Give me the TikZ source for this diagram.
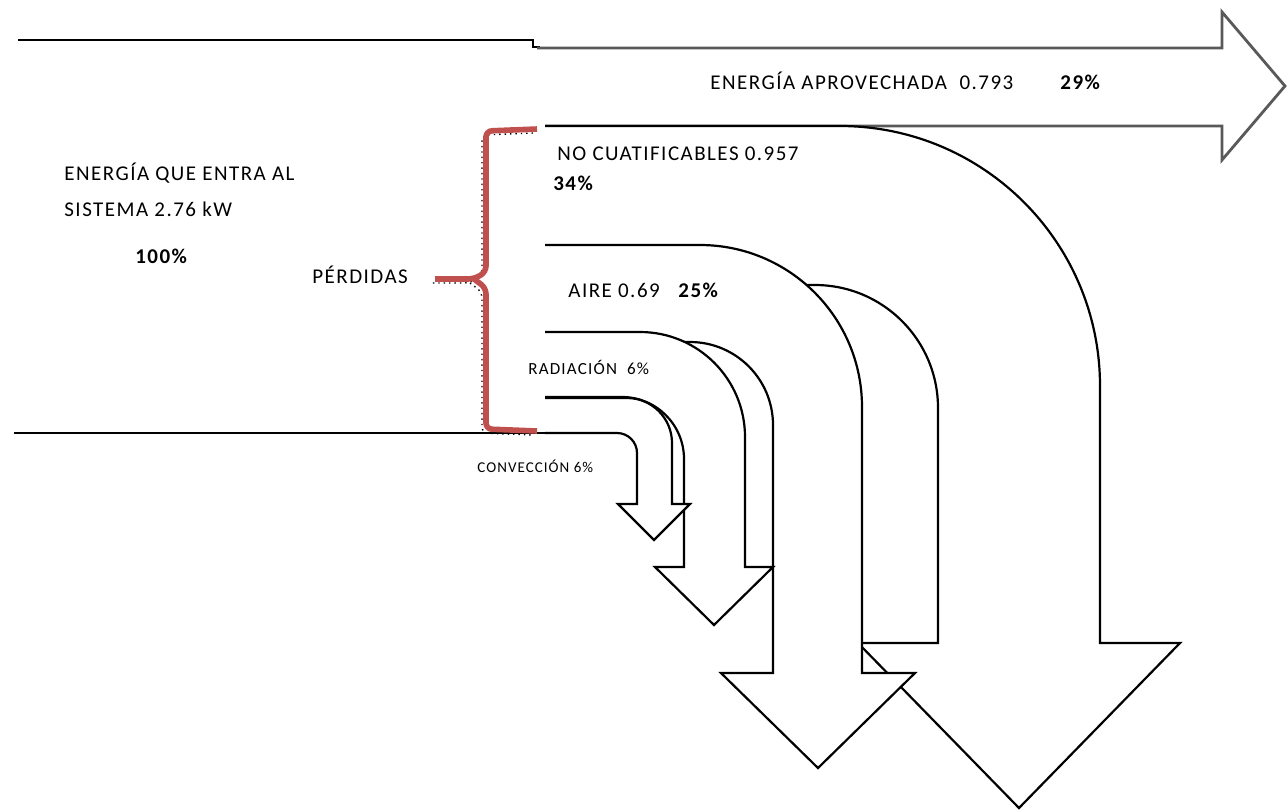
\documentclass[tikz,border=0pt]{standalone}
\usepackage{fontspec}
\setmainfont{Carlito}[LetterSpace=7]
\definecolor{ladrillo}{RGB}{192,80,77}

\begin{document}
\begin{tikzpicture}[
    x=0.5pt, y=-0.5pt,
    flujo/.style={black, line width=1.1pt, fill=white},
    salida/.style={black!65, line width=1.4pt, fill=white},
    llave/.style={ladrillo, line width=2.8pt, rounded corners=3pt},
    sombra/.style={black, dotted, line width=0.7pt, rounded corners=3pt},
    lbl/.style={font=\fontsize{10.5}{12}\selectfont, inner sep=0pt, anchor=base west},
    pct/.style={lbl, font=\fontsize{10.5}{12}\selectfont\bfseries},
    chico/.style={lbl, font=\fontsize{8.5}{10}\selectfont},
    mini/.style={lbl, font=\fontsize{7.5}{9}\selectfont}
]
\useasboundingbox (0,0) rectangle (1287,811);

% ---------- energia que entra ----------
\draw[flujo, fill=none] (18,40) -- (533,40) -- (533,47) -- (540,47);
\draw[flujo, fill=none] (14,433) -- (545,433);

% ---------- energia aprovechada ----------
\draw[salida] (537,48) -- (1222,48) -- (1222,12) -- (1285,86) -- (1222,160) -- (1222,126) -- (545,126);

% ---------- perdidas, de la mayor a la menor ----------
\draw[flujo] (545,126) -- (840,126) arc[start angle=-90, end angle=0, radius=260]
  -- (1100,643) -- (1180,643) -- (1019,808) -- (858,643) -- (938,643)
  -- (938,408) arc[start angle=0, end angle=-90, radius=123] -- (545,285);
\draw[flujo] (545,245) -- (700,245) arc[start angle=-90, end angle=0, radius=162]
  -- (862,673) -- (915,673) -- (818,768) -- (721,673) -- (773,673)
  -- (773,425) arc[start angle=0, end angle=-90, radius=83] -- (545,342);
\draw[flujo] (545,332) -- (640,332) arc[start angle=-90, end angle=0, radius=105]
  -- (745,567) -- (773,567) -- (714,625) -- (655,567) -- (684,567)
  -- (684,459) arc[start angle=0, end angle=-90, radius=62] -- (545,397);
\draw[flujo] (545,398) -- (627,398) arc[start angle=-90, end angle=0, radius=45]
  -- (672,504) -- (690,504) -- (654,540) -- (618,504) -- (637,504)
  -- (637,453) arc[start angle=0, end angle=-90, radius=20] -- (545,433);

% ---------- llave ----------
\draw[sombra, xshift=-2pt, yshift=-2pt] (537,129) -- (486,131) -- (486,272) -- (474,279) -- (435,279);
\draw[sombra, xshift=-2pt, yshift=-2pt] (474,279) -- (486,288) -- (486,429) -- (537,431);
\draw[llave] (537,129) -- (486,131) -- (486,272) -- (474,279) -- (435,279);
\draw[llave] (474,279) -- (486,288) -- (486,429) -- (537,431);

% ---------- textos ----------
\node[lbl] (aprov) at (710,89) {ENERGÍA APROVECHADA\ \ 0.793};
\node[pct] (aprovpct) at (1060,89) {29\%};
\node[lbl] (entra) at (64,180) {ENERGÍA QUE ENTRA AL};
\node[lbl] (sistema) at (64,216) {SISTEMA 2.76 kW};
\node[pct] (cien) at (135,263) {100\%};
\node[lbl] (perdidas) at (312,283) {PÉRDIDAS};
\node[lbl] (nocuat) at (557,160) {NO CUATIFICABLES 0.957};
\node[pct] (nocuatpct) at (553,190) {34\%};
\node[lbl] (aire) at (568,297) {AIRE 0.69};
\node[pct] (airepct) at (678,297) {25\%};
\node[chico] (radiacion) at (528,374) {RADIACIÓN\ \ 6\%};
\node[mini] (conveccion) at (477,472) {CONVECCIÓN 6\%};

\end{tikzpicture}
\end{document}
